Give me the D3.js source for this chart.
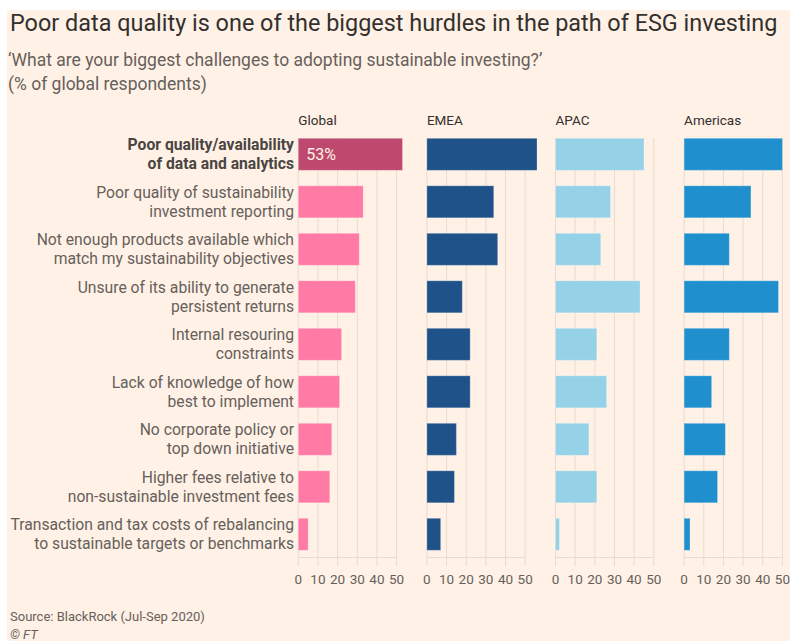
<!DOCTYPE html>
<html>
<head>
<meta charset="utf-8">
<script src="https://cdn.jsdelivr.net/npm/d3@7"></script>
<style>
  body { margin: 0; background: #fff; }
  text { font-family: Roboto, "Noto Sans", sans-serif; }
</style>
</head>
<body>
<div id="chart"></div>
<script>
/*************
Data
**************/
var categories = [
  ["Poor quality/availability", "of data and analytics"],
  ["Poor quality of sustainability", "investment reporting"],
  ["Not enough products available which", "match my sustainability objectives"],
  ["Unsure of its ability to generate", "persistent returns"],
  ["Internal resouring", "constraints"],
  ["Lack of knowledge of how", "best to implement"],
  ["No corporate policy or", "top down initiative"],
  ["Higher fees relative to", "non-sustainable investment fees"],
  ["Transaction and tax costs of rebalancing", "to sustainable targets or benchmarks"]
];
var regions = ["Global", "EMEA", "APAC", "Americas"];
var globalValues   = [53, 33, 31, 29, 22, 21, 17, 16, 5];
var emeaValues     = [56, 34, 36, 18, 22, 22, 15, 14, 7];
var apacValues     = [45, 28, 23, 43, 21, 26, 17, 21, 2];
var americasValues = [50, 34, 23, 48, 23, 14, 21, 17, 3];
var tickValues = [0, 10, 20, 30, 40, 50];

var series = [globalValues, emeaValues, apacValues, americasValues];
var colors = ["#ff7aa5", "#1f5289", "#96d2e7", "#1f8fcd"];
var highlight = "#bb3f67";

/*************
Params
**************/
var width = 790, height = 641;
var panelStart = 298.3, panelStep = 128.6, panelWidth = 98.3;
var ink = "#33302e", grey = "#66605c", gridColor = "#e8dbd0";

var svg = d3.select("#chart").append("svg")
  .attr("width", width)
  .attr("height", height);

svg.append("rect")
  .attr("x", 7).attr("y", 10)
  .attr("width", width - 7).attr("height", height - 10)
  .attr("fill", "#fff1e5");

var title = svg.append("text")
  .attr("x", 10).attr("y", 31)
  .attr("fill", ink)
  .attr("font-size", 20)
  .text("Poor data quality is one of the biggest hurdles in the path of ESG investing");
// stretch to the reference width
var tw = title.node().getComputedTextLength();
title.attr("font-size", 20 * 768 / tw);

svg.append("text")
  .attr("x", 8).attr("y", 66)
  .attr("fill", grey).attr("font-size", 17.5)
  .text("\u2018What are your biggest challenges to adopting sustainable investing?\u2019");
svg.append("text")
  .attr("x", 8).attr("y", 90)
  .attr("fill", grey).attr("font-size", 17.5)
  .text("(% of global respondents)");

var y = d3.scaleBand()
  .domain(d3.range(categories.length))
  .range([138.3, 550.3])
  .paddingInner(0.326)
  .paddingOuter(0);

var x = d3.scaleLinear().domain([0, 50]).range([0, panelWidth]);

// category labels
var labels = svg.append("g");
categories.forEach(function(lines, i) {
  var cy = y(i) + y.bandwidth() / 2;
  var t = labels.append("text")
    .attr("text-anchor", "end")
    .attr("fill", i === 0 ? "#4a4542" : grey)
    .attr("font-weight", i === 0 ? "bold" : "normal")
    .attr("font-size", 15.7);
  lines.forEach(function(line, j) {
    t.append("tspan")
      .attr("x", 294)
      .attr("y", cy + (j === 0 ? -9.5 : 9.5))
      .attr("dy", "0.35em")
      .text(line);
  });
});

regions.forEach(function(region, r) {
  var g = svg.append("g")
    .attr("transform", "translate(" + (panelStart + r * panelStep) + ",0)");

  g.append("text")
    .attr("x", 0).attr("y", 125)
    .attr("fill", ink).attr("font-size", 13.5)
    .text(region);

  // grid
  g.selectAll("line.grid")
    .data(tickValues)
    .enter().append("line")
    .attr("class", "grid")
    .attr("x1", d => x(d)).attr("x2", d => x(d))
    .attr("y1", 138).attr("y2", 566)
    .attr("stroke", gridColor).attr("stroke-width", 1);

  g.append("line")
    .attr("x1", 0).attr("x2", x(50))
    .attr("y1", 557.5).attr("y2", 557.5)
    .attr("stroke", gridColor);

  g.selectAll("rect.bar")
    .data(series[r])
    .enter().append("rect")
    .attr("class", "bar")
    .attr("x", 0)
    .attr("y", (_, i) => y(i))
    .attr("width", d => x(d))
    .attr("height", y.bandwidth())
    .attr("fill", (_, i) => (r === 0 && i === 0) ? highlight : colors[r])
    .attr("fill-opacity", (_, i) => (r === 0 && i === 0) ? 0.95 : 1)
    .attr("stroke", "rgba(255,255,255,0.25)")
    .attr("stroke-width", 1);

  g.selectAll("text.tick")
    .data(tickValues)
    .enter().append("text")
    .attr("class", "tick")
    .attr("x", d => x(d))
    .attr("y", 579)
    .attr("dy", "0.35em")
    .attr("text-anchor", "middle")
    .attr("fill", grey).attr("font-size", 13.5)
    .text(d => d);

  if (r === 0) {
    g.append("text")
      .attr("x", 8)
      .attr("y", y(0) + y.bandwidth() / 2)
      .attr("dy", "0.35em")
      .attr("fill", "#fff1e5").attr("font-size", 16)
      .text(globalValues[0] + "%");
  }
});

svg.append("text")
  .attr("x", 10).attr("y", 621)
  .attr("fill", grey).attr("font-size", 13)
  .text("Source: BlackRock (Jul-Sep 2020)");
svg.append("text")
  .attr("x", 10).attr("y", 639)
  .attr("fill", grey).attr("font-size", 13)
  .attr("font-style", "italic")
  .text("\u00a9 FT");
</script>
</body>
</html>
